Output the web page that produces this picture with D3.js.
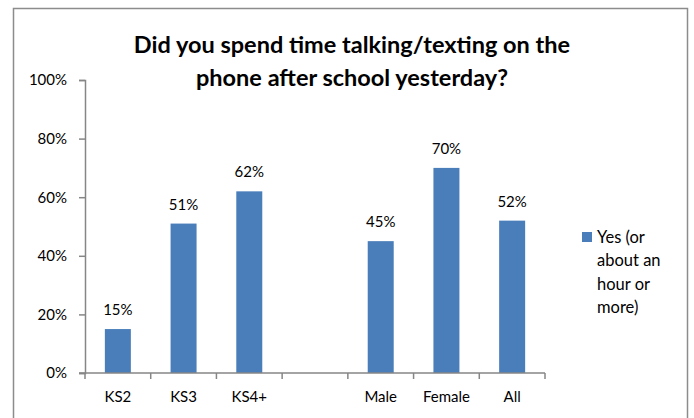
<!DOCTYPE html>
<html>
<head>
<meta charset="utf-8">
<script src="https://cdn.jsdelivr.net/npm/d3@7"></script>
<style>
  html, body { margin: 0; padding: 0; background: #fff; }
  svg { display: block; }
  text { font-family: Lato, "Open Sans", sans-serif; fill: #000; }
</style>
</head>
<body>
<svg id="chart" width="694" height="418"></svg>
<script>
// Survey results: share answering "yes" per group
const categories = ["KS2", "KS3", "KS4+", "", "Male", "Female", "All"];
const values = [0.15, 0.51, 0.62, null, 0.45, 0.70, 0.52];
const yTicks = [0, 0.2, 0.4, 0.6, 0.8, 1.0];
const titleLines = ["Did you spend time talking/texting on the", "phone after school yesterday?"];
const legendLines = ["Yes (or", "about an", "hour or", "more)"];

const svg = d3.select("#chart");
const axisColor = "#868686";
const barColor = "#4a7ebb";

// chart frame
svg.append("rect")
  .attr("x", 13.5).attr("y", 8.5)
  .attr("width", 674).attr("height", 430)
  .attr("fill", "#fff")
  .attr("stroke", "#8c8c8c")
  .attr("stroke-width", 1.5);

const plot = { left: 85, right: 545, top: 80, bottom: 373 };

const x = d3.scaleBand()
  .domain(d3.range(categories.length))
  .range([plot.left, plot.right]);

const y = d3.scaleLinear()
  .domain([0, 1])
  .range([plot.bottom, plot.top]);

const barW = 26;

// bars
const data = categories.map((c, i) => ({ c, i, v: values[i] })).filter(d => d.v != null);
svg.append("g").selectAll("rect")
  .data(data)
  .join("rect")
  .attr("x", d => x(d.i) + x.bandwidth() / 2 - barW / 2)
  .attr("y", d => y(d.v))
  .attr("width", barW)
  .attr("height", d => y(0) - y(d.v))
  .attr("fill", barColor);

// value labels
svg.append("g").selectAll("text")
  .data(data)
  .join("text")
  .attr("x", d => x(d.i) + x.bandwidth() / 2)
  .attr("y", d => y(d.v) - 14)
  .attr("text-anchor", "middle")
  .attr("font-size", 15)
  .text(d => Math.round(d.v * 100) + "%");

// y axis
const yAxis = d3.axisLeft(y)
  .tickValues(yTicks)
  .tickFormat(d3.format(".0%"))
  .tickSize(6)
  .tickPadding(12);
const gy = svg.append("g")
  .attr("transform", `translate(${plot.left},0)`)
  .call(yAxis);
gy.select(".domain").attr("stroke", axisColor).attr("stroke-width", 1.5);
gy.selectAll(".tick line").attr("stroke", axisColor).attr("stroke-width", 1.5);
gy.selectAll(".tick text")
  .attr("font-size", 15)
  .attr("font-family", "Lato, sans-serif")
  .attr("fill", "#000");

// x axis: ticks on category boundaries
const gx = svg.append("g").attr("transform", `translate(0,${plot.bottom})`);
gx.append("line")
  .attr("x1", plot.left - 6).attr("x2", plot.right)
  .attr("stroke", axisColor).attr("stroke-width", 1.5);
const bounds = d3.range(categories.length + 1).map(i => plot.left + i * x.step());
gx.selectAll(".bt")
  .data(bounds)
  .join("line")
  .attr("class", "bt")
  .attr("x1", d => d).attr("x2", d => d)
  .attr("y1", 0).attr("y2", 6)
  .attr("stroke", axisColor).attr("stroke-width", 1.5);
gx.selectAll("text")
  .data(categories)
  .join("text")
  .attr("x", (d, i) => x(i) + x.bandwidth() / 2)
  .attr("y", 29)
  .attr("text-anchor", "middle")
  .attr("font-size", 15)
  .text(d => d);

// title
svg.append("g").selectAll("text")
  .data(titleLines)
  .join("text")
  .attr("x", 352)
  .attr("y", (d, i) => 53 + i * 33)
  .attr("text-anchor", "middle")
  .attr("font-size", 23.5)
  .attr("font-weight", "bold")
  .text(d => d);

// legend
const lg = svg.append("g");
lg.append("rect")
  .attr("x", 582).attr("y", 232)
  .attr("width", 10).attr("height", 10)
  .attr("fill", barColor);
lg.selectAll("text")
  .data(legendLines)
  .join("text")
  .attr("x", 597)
  .attr("y", (d, i) => 243 + i * 23.3)
  .attr("font-size", 16.5)
  .text(d => d);
</script>
</body>
</html>
